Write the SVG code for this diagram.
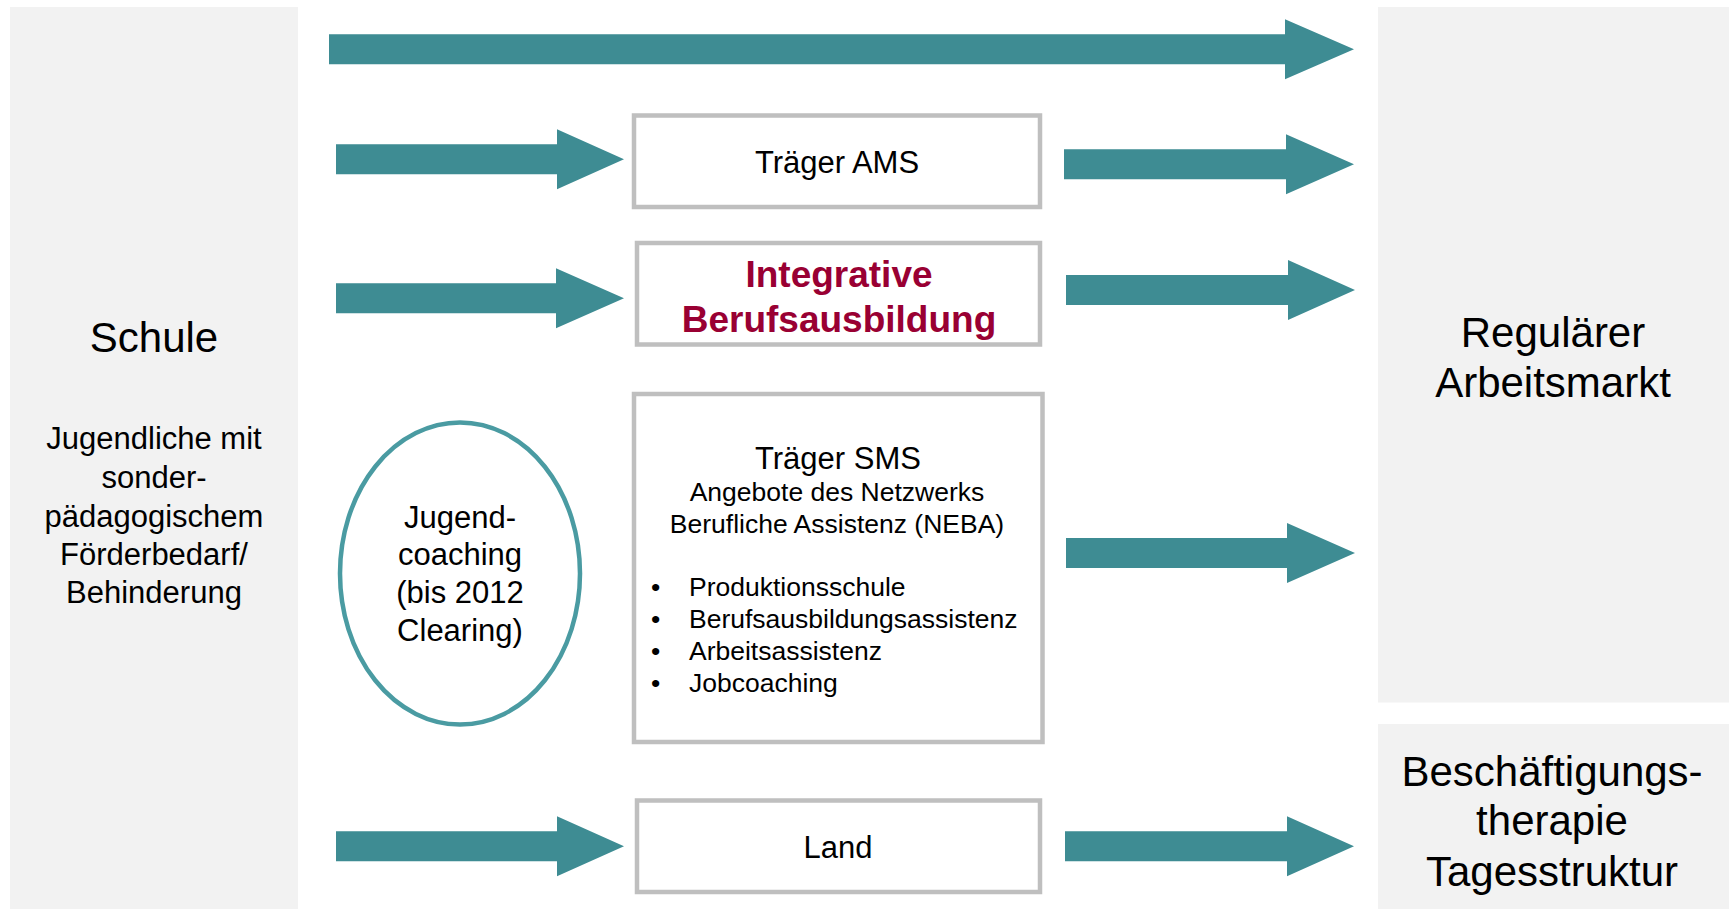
<svg xmlns="http://www.w3.org/2000/svg" width="1729" height="909" viewBox="0 0 1729 909">
<style>
.panel{fill:#F2F2F2}
.box{fill:#FFFFFF;stroke:#BFBFBF;stroke-width:4.5}
.arrow{fill:#3E8C93}
.t{font-family:"Liberation Sans",Arial,sans-serif;fill:#000000;text-anchor:middle}
.big{font-size:42px}
.mid{font-size:31px}
.small{font-size:26.5px}
.iba{font-family:"Liberation Sans",Arial,sans-serif;font-weight:bold;font-size:37px;fill:#990033;text-anchor:middle}
.bl{font-family:"Liberation Sans",Arial,sans-serif;font-size:26.5px;fill:#000000}
</style>
<rect width="1729" height="909" fill="#FFFFFF"/>
<g id="schule">
<rect class="panel" x="10" y="7" width="288" height="902"/>
<text class="t big" x="154" y="351.5">Schule</text>
<text class="t mid" x="154" y="449">Jugendliche mit</text>
<text class="t mid" x="154" y="488">sonder-</text>
<text class="t mid" x="154" y="526.5">pädagogischem</text>
<text class="t mid" x="154" y="565">Förderbedarf/</text>
<text class="t mid" x="154" y="603">Behinderung</text>
</g>
<g id="arbeitsmarkt">
<rect class="panel" x="1378" y="7" width="351" height="695.5"/>
<text class="t big" x="1553" y="346.5">Regulärer</text>
<text class="t big" x="1553" y="397">Arbeitsmarkt</text>
</g>
<g id="beschaeftigung">
<rect class="panel" x="1378" y="724" width="351" height="185"/>
<text class="t big" x="1552" y="785.5">Beschäftigungs-</text>
<text class="t big" x="1552" y="835">therapie</text>
<text class="t big" x="1552" y="885.5">Tagesstruktur</text>
</g>
<g id="jugendcoaching">
<ellipse cx="460" cy="573.5" rx="120" ry="151" fill="#FFFFFF" stroke="#4A9BA2" stroke-width="4.5"/>
<text class="t mid" x="460" y="527.5">Jugend-</text>
<text class="t mid" x="460" y="565">coaching</text>
<text class="t mid" x="460" y="603">(bis 2012</text>
<text class="t mid" x="460" y="641">Clearing)</text>
</g>
<g id="traeger-ams">
<rect class="box" x="634" y="115.5" width="406" height="91.5"/>
<text class="t mid" x="837" y="172.5">Träger AMS</text>
</g>
<g id="iba">
<rect class="box" x="637" y="243" width="403" height="101.5"/>
<text class="iba" x="839" y="286.5">Integrative</text>
<text class="iba" x="839" y="331.5">Berufsausbildung</text>
</g>
<g id="traeger-sms">
<rect class="box" x="634" y="394" width="408.5" height="348"/>
<text class="t mid" x="838" y="468.5">Träger SMS</text>
<text class="t small" x="837" y="500.5">Angebote des Netzwerks</text>
<text class="t small" x="837" y="532.5">Berufliche Assistenz (NEBA)</text>
<text class="bl" x="651" y="596">•</text>
<text class="bl" x="689" y="596">Produktionsschule</text>
<text class="bl" x="651" y="628">•</text>
<text class="bl" x="689" y="628">Berufsausbildungsassistenz</text>
<text class="bl" x="651" y="660">•</text>
<text class="bl" x="689" y="660">Arbeitsassistenz</text>
<text class="bl" x="651" y="692">•</text>
<text class="bl" x="689" y="692">Jobcoaching</text>
</g>
<g id="land">
<rect class="box" x="637" y="800.5" width="403" height="91.5"/>
<text class="t mid" x="838" y="858">Land</text>
</g>
<g id="connectors">
<polygon class="arrow" points="329,34.3 1285,34.3 1285,19.3 1354,49.3 1285,79.3 1285,64.3 329,64.3"/>
<polygon class="arrow" points="336,144.3 557,144.3 557,129.3 624,159.3 557,189.3 557,174.3 336,174.3"/>
<polygon class="arrow" points="336,283.3 556,283.3 556,268.3 624,298.3 556,328.3 556,313.3 336,313.3"/>
<polygon class="arrow" points="336,831.3 557,831.3 557,816.3 624,846.3 557,876.3 557,861.3 336,861.3"/>
<polygon class="arrow" points="1064,149.3 1286,149.3 1286,134.3 1354,164.3 1286,194.3 1286,179.3 1064,179.3"/>
<polygon class="arrow" points="1066,275 1288,275 1288,260 1355,290 1288,320 1288,305 1066,305"/>
<polygon class="arrow" points="1066,538 1287,538 1287,523 1355,553 1287,583 1287,568 1066,568"/>
<polygon class="arrow" points="1065,831.3 1287,831.3 1287,816.3 1354,846.3 1287,876.3 1287,861.3 1065,861.3"/>
</g>
</svg>
